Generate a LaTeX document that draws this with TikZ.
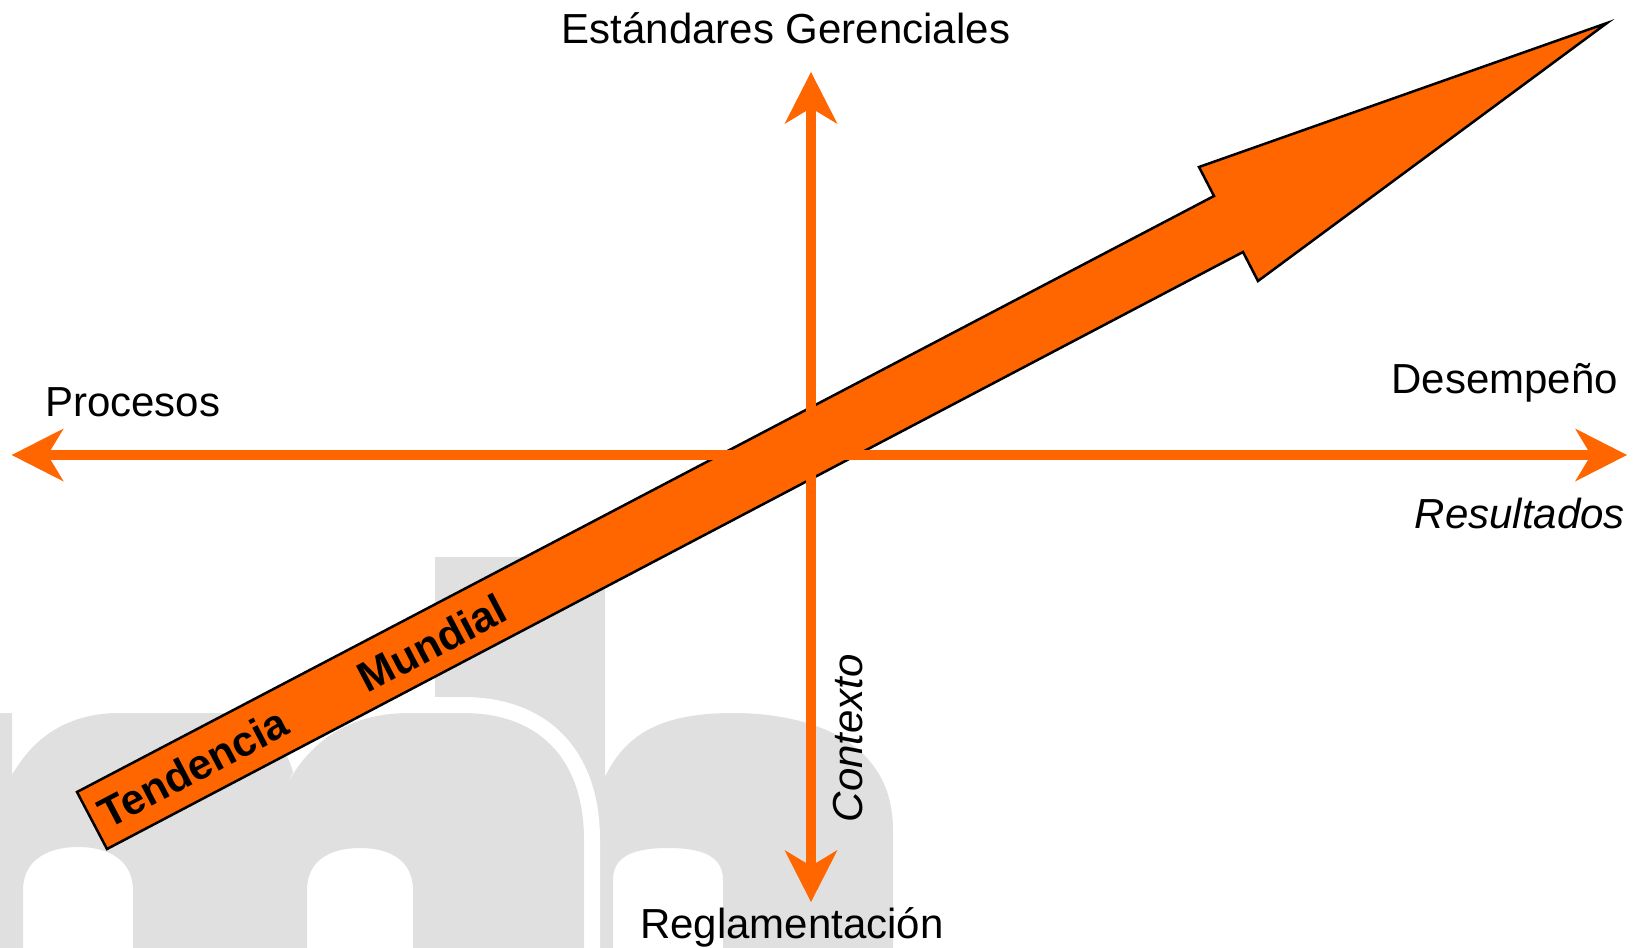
\documentclass[tikz,border=0pt]{standalone}
\usepackage{fontspec}
\setmainfont{Liberation Sans}
\usetikzlibrary{arrows.meta}
\definecolor{orng}{HTML}{FF6600}
\definecolor{wmgray}{RGB}{224,224,224}
\begin{document}
\begin{tikzpicture}[x=1pt,y=-1pt,
  axis/.style={draw=orng, line width=10.5pt,
    {Stealth[length=52pt,width=53pt,inset=16pt,line width=0pt]}-{Stealth[length=52pt,width=53pt,inset=16pt,line width=0pt]}},
  lbl/.style={font=\fontsize{42}{50}\selectfont, inner sep=0pt, text=black},
  ilbl/.style={font=\fontsize{42}{50}\selectfont\itshape, inner sep=0pt, text=black},
  blbl/.style={font=\fontsize{42.5}{50}\selectfont\bfseries, inner sep=0pt, text=black, rotate=27.66},
  wm/.style={fill=wmgray, even odd rule},
  bigarrow/.style={draw=black, fill=orng, line width=2.5pt, line join=miter}]
\useasboundingbox (0,0) rectangle (1634,948);
\fill[white] (0,0) rectangle (1634,948);
% watermark "b"
\fill[wm] (435,557) -- (605,557) -- (605,777)
  .. controls (625,735) and (660,713) .. (733,713)
  .. controls (800,713) and (893,735) .. (893,830) -- (893,948) -- (435,948) -- cycle
  (613,948) -- (613,880) .. controls (613,858) and (630,848) .. (668,848)
  .. controls (706,848) and (723,858) .. (723,880) -- (723,948) -- cycle;
% white outline of the "m"
\draw[white, line width=32pt] (420,713) -- (463,713)
  .. controls (540,713) and (584,760) .. (584,840) -- (584,960);
% watermark "m"
\fill[wm] (-10,948) -- (-10,713) -- (12,713) -- (12,775)
  .. controls (35,735) and (70,713) .. (120,713) -- (220,713)
  .. controls (258,713) and (284,740) .. (293,772) -- (285,788)
  .. controls (310,740) and (350,713) .. (410,713) -- (463,713)
  .. controls (540,713) and (584,760) .. (584,840) -- (584,948) -- cycle
  (23,948) -- (23,890) .. controls (23,862) and (45,847) .. (78,847)
  .. controls (111,847) and (133,862) .. (133,890) -- (133,948) -- cycle
  (307,948) -- (307,890) .. controls (307,862) and (328,848) .. (360,848)
  .. controls (392,848) and (413,862) .. (413,890) -- (413,948) -- cycle;
% big arrow
\coordinate (tu) at (77,792);
\coordinate (nu) at (1214,196);
\coordinate (bu) at (1199,167);
\coordinate (tip) at (1607,23);
\coordinate (bl) at (1258,281);
\coordinate (nl) at (1243,252);
\coordinate (tl) at (107,849);
\draw[bigarrow] (tu) -- (nu) -- (bu) -- (tip) -- (bl) -- (nl) -- (tl) -- cycle;
\node[blbl] (tend) at (193,767.5) {Tendencia};
\node[blbl] (mund) at (432,643) {Mundial};
% axes
\coordinate (L) at (11.7,455);
\coordinate (R) at (1627,455);
\coordinate (T) at (811,72);
\coordinate (B) at (811,902);
\draw[axis] (L) -- (R);
\draw[axis] (B) -- (T);
% labels
\node[lbl, anchor=base] (est) at (786,43) {Estándares Gerenciales};
\node[lbl, anchor=base west] (reg) at (640,938) {Reglamentación};
\node[lbl, anchor=base west] (pro) at (45,416) {Procesos};
\node[lbl, anchor=base east] (des) at (1618,393) {Desempeño};
\node[ilbl, anchor=base east] (res) at (1625,528) {Resultados};
\node[ilbl, anchor=base, rotate=90] (con) at (862,738) {Contexto};
\end{tikzpicture}
\end{document}
